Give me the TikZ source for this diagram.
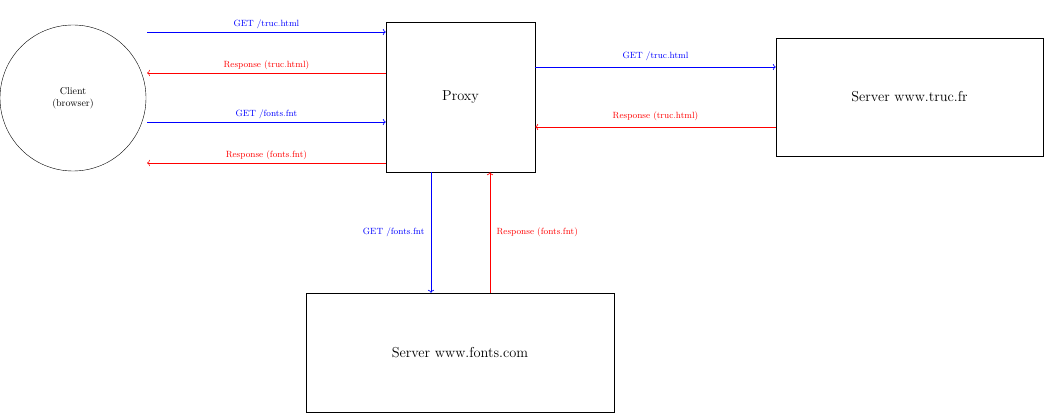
\documentclass[tikz,border=0pt]{standalone}
\usepackage{tikz}
\usetikzlibrary{positioning, arrows.meta}

\begin{document}
\begin{tikzpicture}[x=1pt, y=-1pt,
    hostbox/.style={draw=black, align=center, inner sep=0pt},
    req/.style={->, blue, semithick},
    resp/.style={->, red, semithick},
    lbl/.style={font=\small}
]
    \useasboundingbox (0,0) rectangle (1044,414);
    % Nodos
    \node (client) [draw, circle, minimum size=146pt, inner sep=0pt, align=center] at (73,98) {Client\\(browser)};
    \node (proxy) [hostbox, minimum width=149pt, minimum height=150pt, font=\Large] at (460.5,97) {Proxy};
    \node (truc) [hostbox, minimum width=267pt, minimum height=118pt, font=\Large] at (909.5,97) {Server www.truc.fr};
    \node (fonts) [hostbox, minimum width=308pt, minimum height=119pt, font=\Large] at (460,352.5) {Server www.fonts.com};

    \coordinate (c1) at (147,32);
    \coordinate (c2) at (147,73);
    \coordinate (c3) at (147,122);
    \coordinate (c4) at (147,163);

    % Flechas
    \draw [req] (c1) -- (proxy.west |- c1) node[midway, above, lbl, blue] {GET /truc.html};
    \draw [resp] (proxy.west |- c2) -- (c2) node[midway, above, lbl, red] {Response (truc.html)};
    \draw [req] (c3) -- (proxy.west |- c3) node[midway, above, lbl, blue] {GET /fonts.fnt};
    \draw [resp] (proxy.west |- c4) -- (c4) node[midway, above, lbl, red] {Response (fonts.fnt)};

    \draw [req] (proxy.east |- 0,67) -- (truc.west |- 0,67) node[midway, above=3pt, lbl, blue] {GET /truc.html};
    \draw [resp] (truc.west |- 0,127) -- (proxy.east |- 0,127) node[midway, above=3pt, lbl, red] {Response (truc.html)};

    \draw [req] (proxy.south -| 431,0) -- (fonts.north -| 431,0) node[midway, left=3pt, lbl, blue] {GET /fonts.fnt};
    \draw [resp] (fonts.north -| 490,0) -- (proxy.south -| 490,0) node[midway, right=3pt, lbl, red] {Response (fonts.fnt)};
\end{tikzpicture}
\end{document}
